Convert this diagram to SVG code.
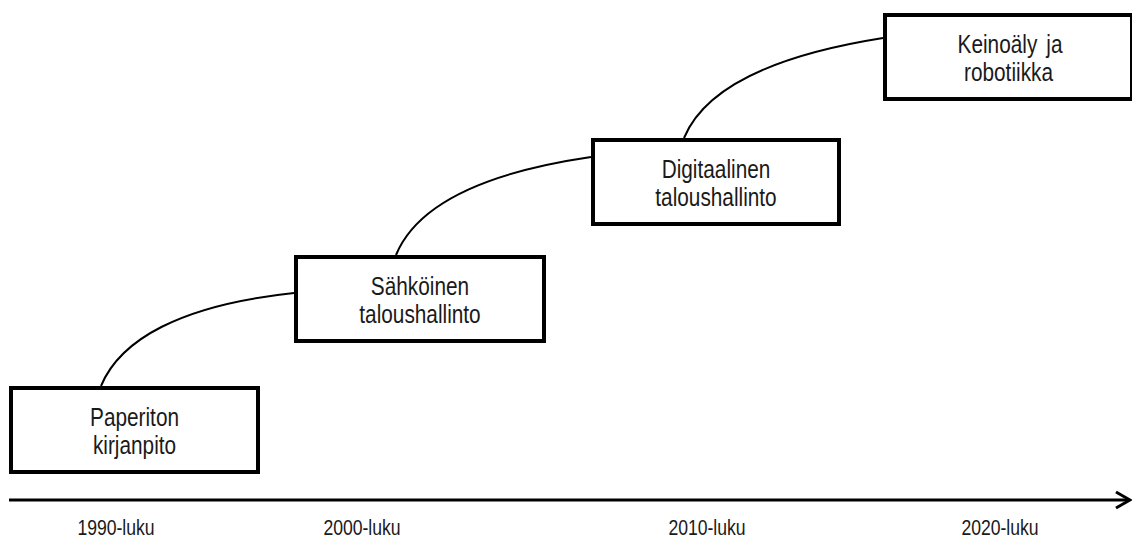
<svg xmlns="http://www.w3.org/2000/svg" width="1132" height="538" viewBox="0 0 1132 538">
  <style>
    .box { fill: #ffffff; stroke: #000000; stroke-width: 4; }
    .lbl { font-family: "Liberation Sans", Arial, sans-serif; font-size: 26px; fill: #1a1a1a; text-anchor: middle; }
    .tick { font-family: "Liberation Sans", Arial, sans-serif; font-size: 22px; fill: #1a1a1a; text-anchor: middle; }
    .link { fill: none; stroke: #000000; stroke-width: 2; }
    .axis { fill: none; stroke: #000000; stroke-width: 3; }
  </style>
  <rect width="1132" height="538" fill="#ffffff"/>

  <!-- curved links between stages -->
  <g id="connectors">
    <path class="link" d="M101,386 C120,340 180,305 294,293"/>
    <path class="link" d="M396,255 C415,209 475,174 591,157"/>
    <path class="link" d="M684,138 C703,92 763,57 883,38"/>
  </g>

  <!-- time axis -->
  <g id="axis">
    <line class="axis" x1="9" y1="500" x2="1129" y2="500"/>
    <polyline class="axis" stroke-width="2.5" points="1116,492 1130,500 1116,508"/>
    <text class="tick" transform="translate(116,535) scale(0.8,1)">1990-luku</text>
    <text class="tick" transform="translate(362,535) scale(0.8,1)">2000-luku</text>
    <text class="tick" transform="translate(707,535) scale(0.8,1)">2010-luku</text>
    <text class="tick" transform="translate(1000,535) scale(0.8,1)">2020-luku</text>
  </g>

  <g id="paperiton">
    <rect class="box" x="11" y="388" width="247" height="84"/>
    <text class="lbl" transform="translate(134.5,425.5) scale(0.8,1)">Paperiton</text>
    <text class="lbl" transform="translate(134.5,454) scale(0.8,1)">kirjanpito</text>
  </g>

  <g id="sahkoinen">
    <rect class="box" x="296" y="257" width="248" height="84"/>
    <text class="lbl" transform="translate(420,294.5) scale(0.8,1)">Sähköinen</text>
    <text class="lbl" transform="translate(420,323) scale(0.8,1)">taloushallinto</text>
  </g>

  <g id="digitaalinen">
    <rect class="box" x="593" y="140" width="246" height="84"/>
    <text class="lbl" transform="translate(716,177.5) scale(0.8,1)">Digitaalinen</text>
    <text class="lbl" transform="translate(716,206) scale(0.8,1)">taloushallinto</text>
  </g>

  <g id="keinoaly">
    <rect class="box" x="885" y="15" width="247" height="84"/>
    <text class="lbl" transform="translate(1010,52.5) scale(0.8,1)" word-spacing="4">Keinoäly ja</text>
    <text class="lbl" transform="translate(1008.5,81) scale(0.8,1)">robotiikka</text>
  </g>
</svg>
